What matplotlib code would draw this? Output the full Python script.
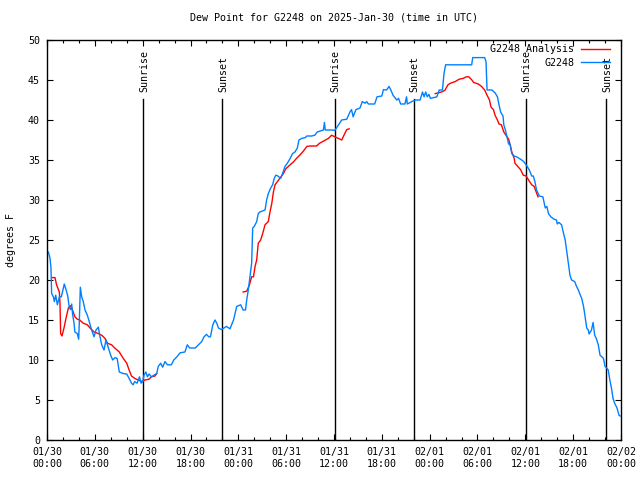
import numpy as np
import matplotlib
matplotlib.use("Agg")
import matplotlib.pyplot as plt
from matplotlib.ticker import MultipleLocator

# hours since 2025-01-30 00:00 UTC
obs_hours = [0.17, 0.38, 0.5, 0.58, 0.8, 0.92, 1.09, 1.3, 1.55, 1.8, 2.17, 2.47, 2.6, 2.8, 2.97,
             3.1, 3.2, 3.39, 3.5, 3.8, 3.97, 4.05, 4.18, 4.35, 4.55, 4.77, 5.06, 5.3, 5.6, 5.9,
             6.15, 6.44, 6.65, 6.86, 7.15, 7.4, 7.7, 7.99, 8.24, 8.53, 8.8, 9.07, 9.57, 10.0, 10.3,
             10.6, 10.8, 11.0, 11.3, 11.6, 11.8, 12.0, 12.17, 12.4, 12.6, 12.8, 13.1, 13.4, 13.76,
             13.96, 14.26, 14.5, 14.8, 15.1, 15.6, 15.9, 16.3, 16.7, 17.3, 17.6, 17.9, 18.6, 19.0,
             19.4, 19.7, 20.0, 20.3, 20.5, 20.8, 21.07, 21.3, 21.5, 21.9, 22.5, 22.95, 23.4, 23.8,
             24.3, 24.6, 24.9, 25.05, 25.25, 25.46, 25.67, 25.8, 26.0, 26.3, 26.5, 26.7, 27.35,
             27.55, 27.76, 28.06, 28.3, 28.5, 28.7, 28.97, 29.3, 29.55, 29.85, 30.15, 30.5, 30.8,
             31.1, 31.4, 31.6, 31.95, 32.4, 32.6, 33.2, 33.6, 33.9, 34.67, 34.8, 34.9, 35.7, 36.1,
             36.3, 36.97, 37.6, 38.0, 38.2, 38.4, 38.75, 39.26, 39.55, 39.9, 40.1, 40.3, 41.1, 41.4,
             42.0, 42.2, 42.6, 42.9, 43.2, 43.4, 43.87, 44.1, 44.36, 44.9, 45.1, 45.2, 45.75, 46.2,
             46.8, 47.1, 47.3, 47.5, 47.7, 47.9, 48.1, 48.9, 49.2, 49.6, 49.8, 50.0, 53.27, 53.4,
             54.9, 55.07, 55.2, 55.4, 55.8, 56.2, 56.5, 56.7, 56.9, 57.2, 57.3, 57.5, 57.7, 57.9,
             58.1, 58.3, 58.6, 58.9, 59.4, 59.8, 60.2, 60.5, 60.8, 61.0, 61.2, 61.4, 61.75, 62.2,
             62.5, 62.7, 62.9, 63.2, 63.6, 63.9, 64.0, 64.2, 64.55, 64.75, 65.0, 65.2, 65.4, 65.6,
             65.8, 66.2, 66.4, 66.65, 66.9, 67.07, 67.3, 67.5, 67.7, 67.9, 68.0, 68.3, 68.5, 68.7,
             68.9, 69.15, 69.37, 69.6, 69.8, 70.0, 70.2, 70.4, 70.6, 70.8, 71.0, 71.2, 71.5, 71.75,
             71.9]
obs_dewpt = [23.5, 22.7, 21.5, 18.3, 17.9, 17.3, 18.1, 16.9, 17.9, 17.9, 19.5, 18.5, 18.0, 16.5, 16.3,
             17.0, 15.8, 14.6, 13.5, 13.3, 12.6, 14.6, 19.1, 17.9, 17.3, 16.25, 15.6, 14.8, 13.75, 12.9,
             13.75, 14.1, 12.9, 11.9, 11.25, 12.5, 11.5, 10.6, 10.0, 10.3, 10.2, 8.5, 8.3, 8.25, 7.7,
             7.1, 6.9, 7.3, 7.1, 7.9, 7.1, 7.3, 8.1, 8.5, 7.9, 8.25, 7.9, 8.1, 8.3,
             9.2, 9.6, 9.1, 9.8, 9.4, 9.4, 10.0, 10.4, 10.9, 11.0, 11.9, 11.5, 11.5, 11.9,
             12.3, 12.9, 13.2, 12.9, 12.9, 14.4, 15.0, 14.6, 14.0, 13.8, 14.2, 13.9, 15.0, 16.7,
             16.9, 16.25, 16.25, 17.5, 18.75, 20.4, 22.1, 26.5, 26.7, 27.3, 28.3, 28.5, 28.75,
             30.0, 30.8, 31.5, 31.9, 32.7, 33.1, 33.0, 32.7, 33.3, 34.2, 34.6, 35.2, 35.8,
             36.0, 36.5, 37.5, 37.7, 37.8, 38.0, 38.0, 38.1, 38.5, 38.75, 39.7, 38.75, 38.75, 38.7,
             39.0, 40.0, 40.1, 41.0, 41.3, 40.4, 41.3, 41.5, 42.3, 42.1, 42.3, 42.0, 42.0, 42.9,
             43.0, 43.8, 43.75, 44.2, 43.6, 43.1, 42.5, 42.7, 42.0, 42.0, 42.9, 42.0, 42.3, 42.5,
             42.5, 43.5, 42.9, 43.5, 42.9, 43.2, 42.7, 42.9, 43.75, 43.75, 45.8, 46.9, 46.9, 47.8,
             47.8, 47.3, 43.75, 43.75, 43.75, 43.4, 42.9, 41.9, 41.0, 40.5, 39.4, 38.75, 37.9, 37.0,
             36.9, 35.8, 35.5, 35.4, 35.1, 34.8, 34.25, 33.75, 33.0, 33.0, 32.3, 31.25, 30.5, 30.4,
             29.0, 29.2, 28.3, 27.9, 27.6, 27.5, 27.0, 27.2, 26.9, 26.0, 25.0, 23.5, 21.9, 20.6,
             20.0, 19.8, 19.25, 18.75, 18.1, 17.7, 16.7, 15.4, 14.0, 13.75, 13.25, 13.75, 14.7, 13.1,
             12.7, 11.9, 10.6, 10.4, 10.2, 9.2, 9.0, 8.75, 7.5, 6.5, 5.2, 4.6, 4.0, 3.1,
             3.0]

# analysis series, NaN marks the gaps between runs
ana_hours = [0.67, 1.0, 1.2, 1.55, 1.63, 1.71, 1.88, 2.13, 2.38, 2.68, 2.97, 3.2, 3.5, 3.8, 4.1,
             4.55, 5.06, 5.4, 5.9, 6.44, 6.86, 7.28, 7.57, 8.1, 8.5, 9.07, 9.57, 10.0, 10.3, 10.6,
             11.0, 11.45, 11.9, 12.3, 12.8, 13.1, 13.55, 13.76, 19.0,
             24.6, 25.05, 25.4, 25.67, 25.9, 26.1, 26.3, 26.5, 26.8, 27.05, 27.35, 27.76, 27.97,
             28.2, 28.4, 28.6, 28.9, 29.2, 29.65, 29.95, 30.5, 30.9, 31.3, 31.7, 32.15, 32.6, 33.0,
             33.8, 34.2, 34.75, 35.3, 35.7, 36.1, 36.55, 36.97, 37.25, 37.6, 37.9, 43.0,
             48.7, 49.1, 49.5, 49.9, 50.3, 50.6, 51.2, 51.7, 52.2, 52.6, 52.9, 53.3, 53.5, 54.1,
             54.5, 54.9, 55.2, 55.5, 55.7, 56.0, 56.2, 56.5, 56.7, 57.0, 57.3, 57.7, 57.9, 58.1,
             58.3, 58.6, 58.7, 59.0, 59.4, 59.75, 60.1, 60.4, 60.8, 61.1, 61.4, 61.6]
ana_dewpt = [20.3, 20.3, 19.4, 18.5, 17.1, 13.3, 13.0, 14.0, 15.2, 16.5, 16.8, 16.25, 15.4, 15.1, 15.0,
             14.6, 14.4, 14.0, 13.5, 13.3, 13.1, 12.7, 12.1, 11.9, 11.5, 11.0, 10.2, 9.6, 8.75, 8.0,
             7.7, 7.5, 7.3, 7.5, 7.6, 7.9, 8.0, 8.3, np.nan,
             18.5, 18.6, 19.4, 20.4, 20.4, 21.7, 22.5, 24.6, 25.0, 25.8, 26.9, 27.3, 28.5,
             29.6, 31.0, 31.9, 32.3, 32.7, 33.3, 33.9, 34.4, 34.75, 35.2, 35.6, 36.1, 36.7, 36.75,
             36.75, 37.1, 37.4, 37.7, 38.1, 37.9, 37.7, 37.5, 38.1, 38.8, 38.9, np.nan,
             43.3, 43.4, 43.5, 43.7, 44.4, 44.6, 44.8, 45.1, 45.2, 45.4, 45.4, 45.0, 44.7, 44.5,
             44.2, 43.75, 43.1, 42.5, 41.6, 41.3, 40.6, 40.0, 39.5, 39.4, 38.5, 37.9, 37.6, 36.9,
             36.0, 35.2, 34.6, 34.25, 33.8, 33.1, 33.0, 32.5, 31.9, 31.7, 30.9, 30.4]

sun_hours = [12.08, 21.99, 36.13, 46.04, 60.08, 70.15]
sun_labels = ["Sunrise", "Sunset", "Sunrise", "Sunset", "Sunrise", "Sunset"]

tick_hours = [0, 6, 12, 18, 24, 30, 36, 42, 48, 54, 60, 66, 72]
tick_labels = ["01/30\n00:00", "01/30\n06:00", "01/30\n12:00", "01/30\n18:00",
               "01/31\n00:00", "01/31\n06:00", "01/31\n12:00", "01/31\n18:00",
               "02/01\n00:00", "02/01\n06:00", "02/01\n12:00", "02/01\n18:00",
               "02/02\n00:00"]

plt.rcParams['font.family'] = ['DejaVu Sans Mono']
plt.rcParams['font.size'] = 7.2

fig = plt.figure(figsize=(6.4, 4.8), dpi=100)
ax = fig.add_axes([47 / 640, 40 / 480, 574 / 640, 400 / 480])

for h, lab in zip(sun_hours, sun_labels):
    ax.plot([h, h], [0, 42.6], color="black", linewidth=1.0)
    ax.text(h + 0.1, 43.5, lab, rotation=90, ha="center", va="bottom", fontsize=7.2)

ax.plot(ana_hours, ana_dewpt, color="#ff0000", linewidth=1.0, label="G2248 Analysis")
ax.plot(obs_hours, obs_dewpt, color="#0080ff", linewidth=1.0, label="G2248")

ax.set_xlim(0, 72)
ax.set_ylim(0, 50)
ax.set_xticks(tick_hours)
ax.set_xticklabels(tick_labels)
ax.xaxis.set_minor_locator(MultipleLocator(2))
ax.yaxis.set_major_locator(MultipleLocator(5))
ax.tick_params(which="both", direction="in", top=True, right=True, labelsize=7.2)
ax.tick_params(which="major", length=4.5, width=0.8)
ax.tick_params(which="minor", length=2.5, width=0.8)
ax.tick_params(axis="y", pad=5)
ax.tick_params(axis="x", pad=5)
for s in ax.spines.values():
    s.set_linewidth(1.0)

ax.set_title("Dew Point for G2248 on 2025-Jan-30 (time in UTC)", fontsize=7.2, pad=14)
ax.set_ylabel("degrees F", fontsize=7.2, labelpad=9)

ax.legend(loc="upper right", bbox_to_anchor=(0.981, 0.989), frameon=False, markerfirst=False,
          borderpad=0, borderaxespad=0, handlelength=2.9, handletextpad=0.7, labelspacing=0.35,
          fontsize=7.2)

fig.savefig("out.png", dpi=100)
